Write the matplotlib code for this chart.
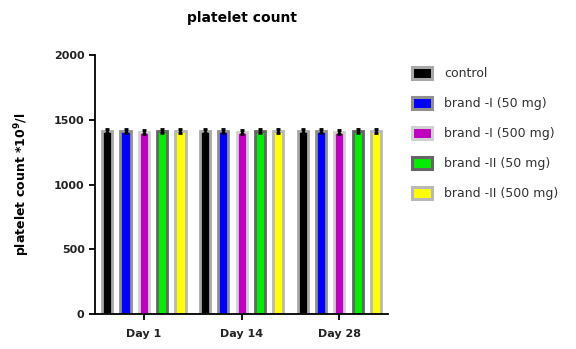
import numpy as np
import matplotlib
matplotlib.use("Agg")
import matplotlib.pyplot as plt
from matplotlib.patches import Patch

# data
days = ["Day 1", "Day 14", "Day 28"]
groups = ["control", "brand -I (50 mg)", "brand -I (500 mg)",
          "brand -II (50 mg)", "brand -II (500 mg)"]
means = {
    "control":            [1415, 1415, 1415],
    "brand -I (50 mg)":   [1415, 1415, 1415],
    "brand -I (500 mg)":  [1405, 1405, 1405],
    "brand -II (50 mg)":  [1415, 1415, 1415],
    "brand -II (500 mg)": [1412, 1412, 1412],
}
errs = {
    "control":            [15, 15, 15],
    "brand -I (50 mg)":   [15, 15, 15],
    "brand -I (500 mg)":  [15, 15, 15],
    "brand -II (50 mg)":  [15, 15, 15],
    "brand -II (500 mg)": [15, 15, 15],
}
face = ["#000000", "#0000ff", "#c000c0", "#00ee00", "#ffff00"]
edge = ["#a8a8a8", "#909090", "#d0d0d0", "#666666", "#b8b8b8"]

plt.rcParams["font.family"] = ["DejaVu Sans"]

fig = plt.figure(figsize=(5.76, 3.49), dpi=100)
ax = fig.add_axes([0.165, 0.10, 0.509, 0.742])

x = np.arange(len(days))
pitch = 0.187
width = 0.105
for i, g in enumerate(groups):
    pos = x + (i - 2) * pitch
    ax.bar(pos, means[g], width, color=face[i], edgecolor=edge[i],
           linewidth=2.0, zorder=2)
    ax.errorbar(pos, means[g], yerr=errs[g], fmt="none", ecolor="black",
                elinewidth=2, capsize=1.5, capthick=2, zorder=3)

ax.set_xlim(-0.5, 2.5)
ax.set_ylim(0, 2000)
ax.set_yticks([0, 500, 1000, 1500, 2000])
ax.set_xticks(x)
ax.set_xticklabels(days)
for s in ["top", "right"]:
    ax.spines[s].set_visible(False)
for s in ["left", "bottom"]:
    ax.spines[s].set_linewidth(1.3)
ax.tick_params(axis="both", direction="out", length=4, width=1.3,
               labelsize=8)
for lab in ax.get_xticklabels() + ax.get_yticklabels():
    lab.set_fontweight("bold")
    lab.set_color("#222222")
ax.tick_params(axis="x", pad=7)

ax.set_title("platelet count", fontsize=10, fontweight="bold", pad=24)
ax.set_ylabel("platelet count *10$^{\\mathbf{9}}$/l", fontsize=9,
              fontweight="bold", labelpad=16)

handles = [Patch(facecolor=face[i], edgecolor=edge[i], linewidth=2.2)
           for i in range(len(groups))]
leg = fig.legend(handles, groups, loc="upper left",
                 bbox_to_anchor=(0.695, 0.84), frameon=False,
                 fontsize=9, handlelength=1.6, handleheight=1.1,
                 labelspacing=1.33, handletextpad=1.0)
for t in leg.get_texts():
    t.set_color("#333333")

fig.savefig("out.png", dpi=100)
